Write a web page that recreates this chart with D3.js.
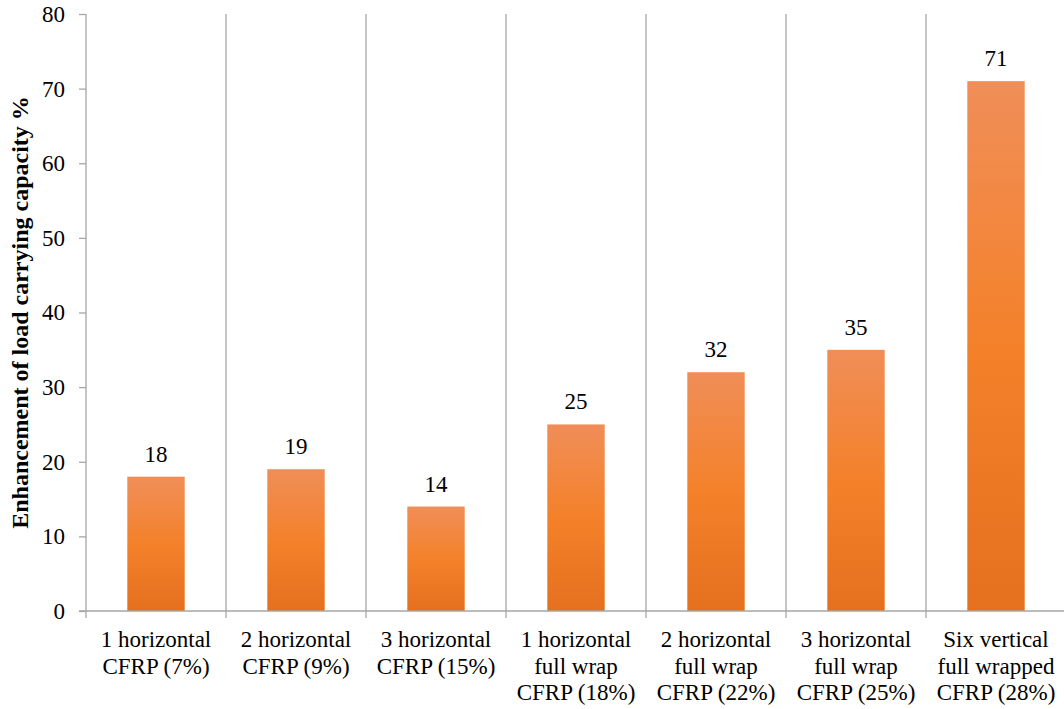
<!DOCTYPE html>
<html><head><meta charset="utf-8">
<script src="https://cdn.jsdelivr.net/npm/d3@7"></script>
<style>
html,body{margin:0;padding:0;background:#fff;}
svg{display:block;}
</style></head>
<body>
<svg id="chart" width="1064" height="709"></svg>
<script>
const categories = [
  ["1 horizontal","CFRP (7%)"],
  ["2 horizontal","CFRP (9%)"],
  ["3 horizontal","CFRP (15%)"],
  ["1 horizontal","full wrap","CFRP (18%)"],
  ["2 horizontal","full wrap","CFRP (22%)"],
  ["3 horizontal","full wrap","CFRP (25%)"],
  ["Six vertical","full wrapped","CFRP (28%)"]
];
const values = [18, 19, 14, 25, 32, 35, 71];
const yTicks = [0,10,20,30,40,50,60,70,80];
const yTitle = "Enhancement of load carrying capacity %";

const FONT = "'Liberation Serif', 'Times New Roman', 'DejaVu Serif', serif";
const svg = d3.select("#chart").attr("font-family",FONT);
const mL = 86, mR = 1066, mT = 14, mB = 611;
const keys = categories.map((c,i)=>i);
const x = d3.scaleBand().domain(keys).range([mL,mR]).paddingInner(0).paddingOuter(0);
const y = d3.scaleLinear().domain([0,80]).range([mB,mT]);

const defs = svg.append("defs");
const grad = defs.append("linearGradient").attr("id","barGrad")
  .attr("x1",0).attr("y1",0).attr("x2",0).attr("y2",1);
grad.append("stop").attr("offset","0%").attr("stop-color","#F08E58");
grad.append("stop").attr("offset","50%").attr("stop-color","#F4812A");
grad.append("stop").attr("offset","100%").attr("stop-color","#E5701E");

const gridColor = "#A6A6A6";
const bounds = keys.map(k=>x(k)).concat([mR]).slice(1);
svg.append("g").selectAll("line").data(bounds).join("line")
  .attr("x1",d=>d).attr("x2",d=>d).attr("y1",mT).attr("y2",mB+7)
  .attr("stroke",gridColor).attr("stroke-width",1.3);

const bw = x.bandwidth()*0.41;
svg.append("g").selectAll("rect").data(values).join("rect")
  .attr("x",(d,i)=>x(i)+x.bandwidth()/2-bw/2)
  .attr("width",bw)
  .attr("y",d=>y(d))
  .attr("height",d=>mB-y(d))
  .attr("fill","url(#barGrad)");

svg.append("g").selectAll("text").data(values).join("text")
  .attr("x",(d,i)=>x(i)+x.bandwidth()/2)
  .attr("y",d=>y(d)-15)
  .attr("text-anchor","middle")
  .attr("font-family",FONT)
  .attr("font-size","23px")
  .attr("fill","#000")
  .text(d=>d);

const yAxis = d3.axisLeft(y).tickValues(yTicks).tickSize(7).tickPadding(14);
const ya = svg.append("g").attr("transform",`translate(${mL},0)`).call(yAxis)
  .attr("font-family",FONT).attr("font-size","23px");
ya.select(".domain").attr("stroke",gridColor).attr("stroke-width",1.3).attr("d",`M0,${mB}V${mT}`);
ya.selectAll(".tick line").attr("stroke",gridColor).attr("stroke-width",1.3);
ya.selectAll(".tick text").attr("font-family",FONT).attr("font-size","23px").attr("fill","#000");

svg.append("line").attr("x1",mL-7).attr("x2",mR).attr("y1",mB).attr("y2",mB)
  .attr("stroke",gridColor).attr("stroke-width",1.3);
svg.append("line").attr("x1",mL).attr("x2",mL).attr("y1",mB).attr("y2",mB+7)
  .attr("stroke",gridColor).attr("stroke-width",1.3);

const cl = svg.append("g").selectAll("text").data(categories).join("text")
  .attr("x",(d,i)=>x(i)+x.bandwidth()/2)
  .attr("y",647)
  .attr("text-anchor","middle")
  .attr("font-family",FONT)
  .attr("font-size","23px")
  .attr("fill","#000");
cl.selectAll("tspan").data(d=>d).join("tspan")
  .attr("x",function(){return this.parentNode.getAttribute("x");})
  .attr("dy",(d,i)=>i===0?0:26.5)
  .text(d=>d);

svg.append("text")
  .attr("transform",`translate(28,${(mT+mB)/2}) rotate(-90)`)
  .attr("text-anchor","middle")
  .attr("font-family",FONT)
  .attr("font-size","24px")
  .attr("font-weight","bold")
  .attr("fill","#000")
  .text(yTitle);
</script>
</body></html>
